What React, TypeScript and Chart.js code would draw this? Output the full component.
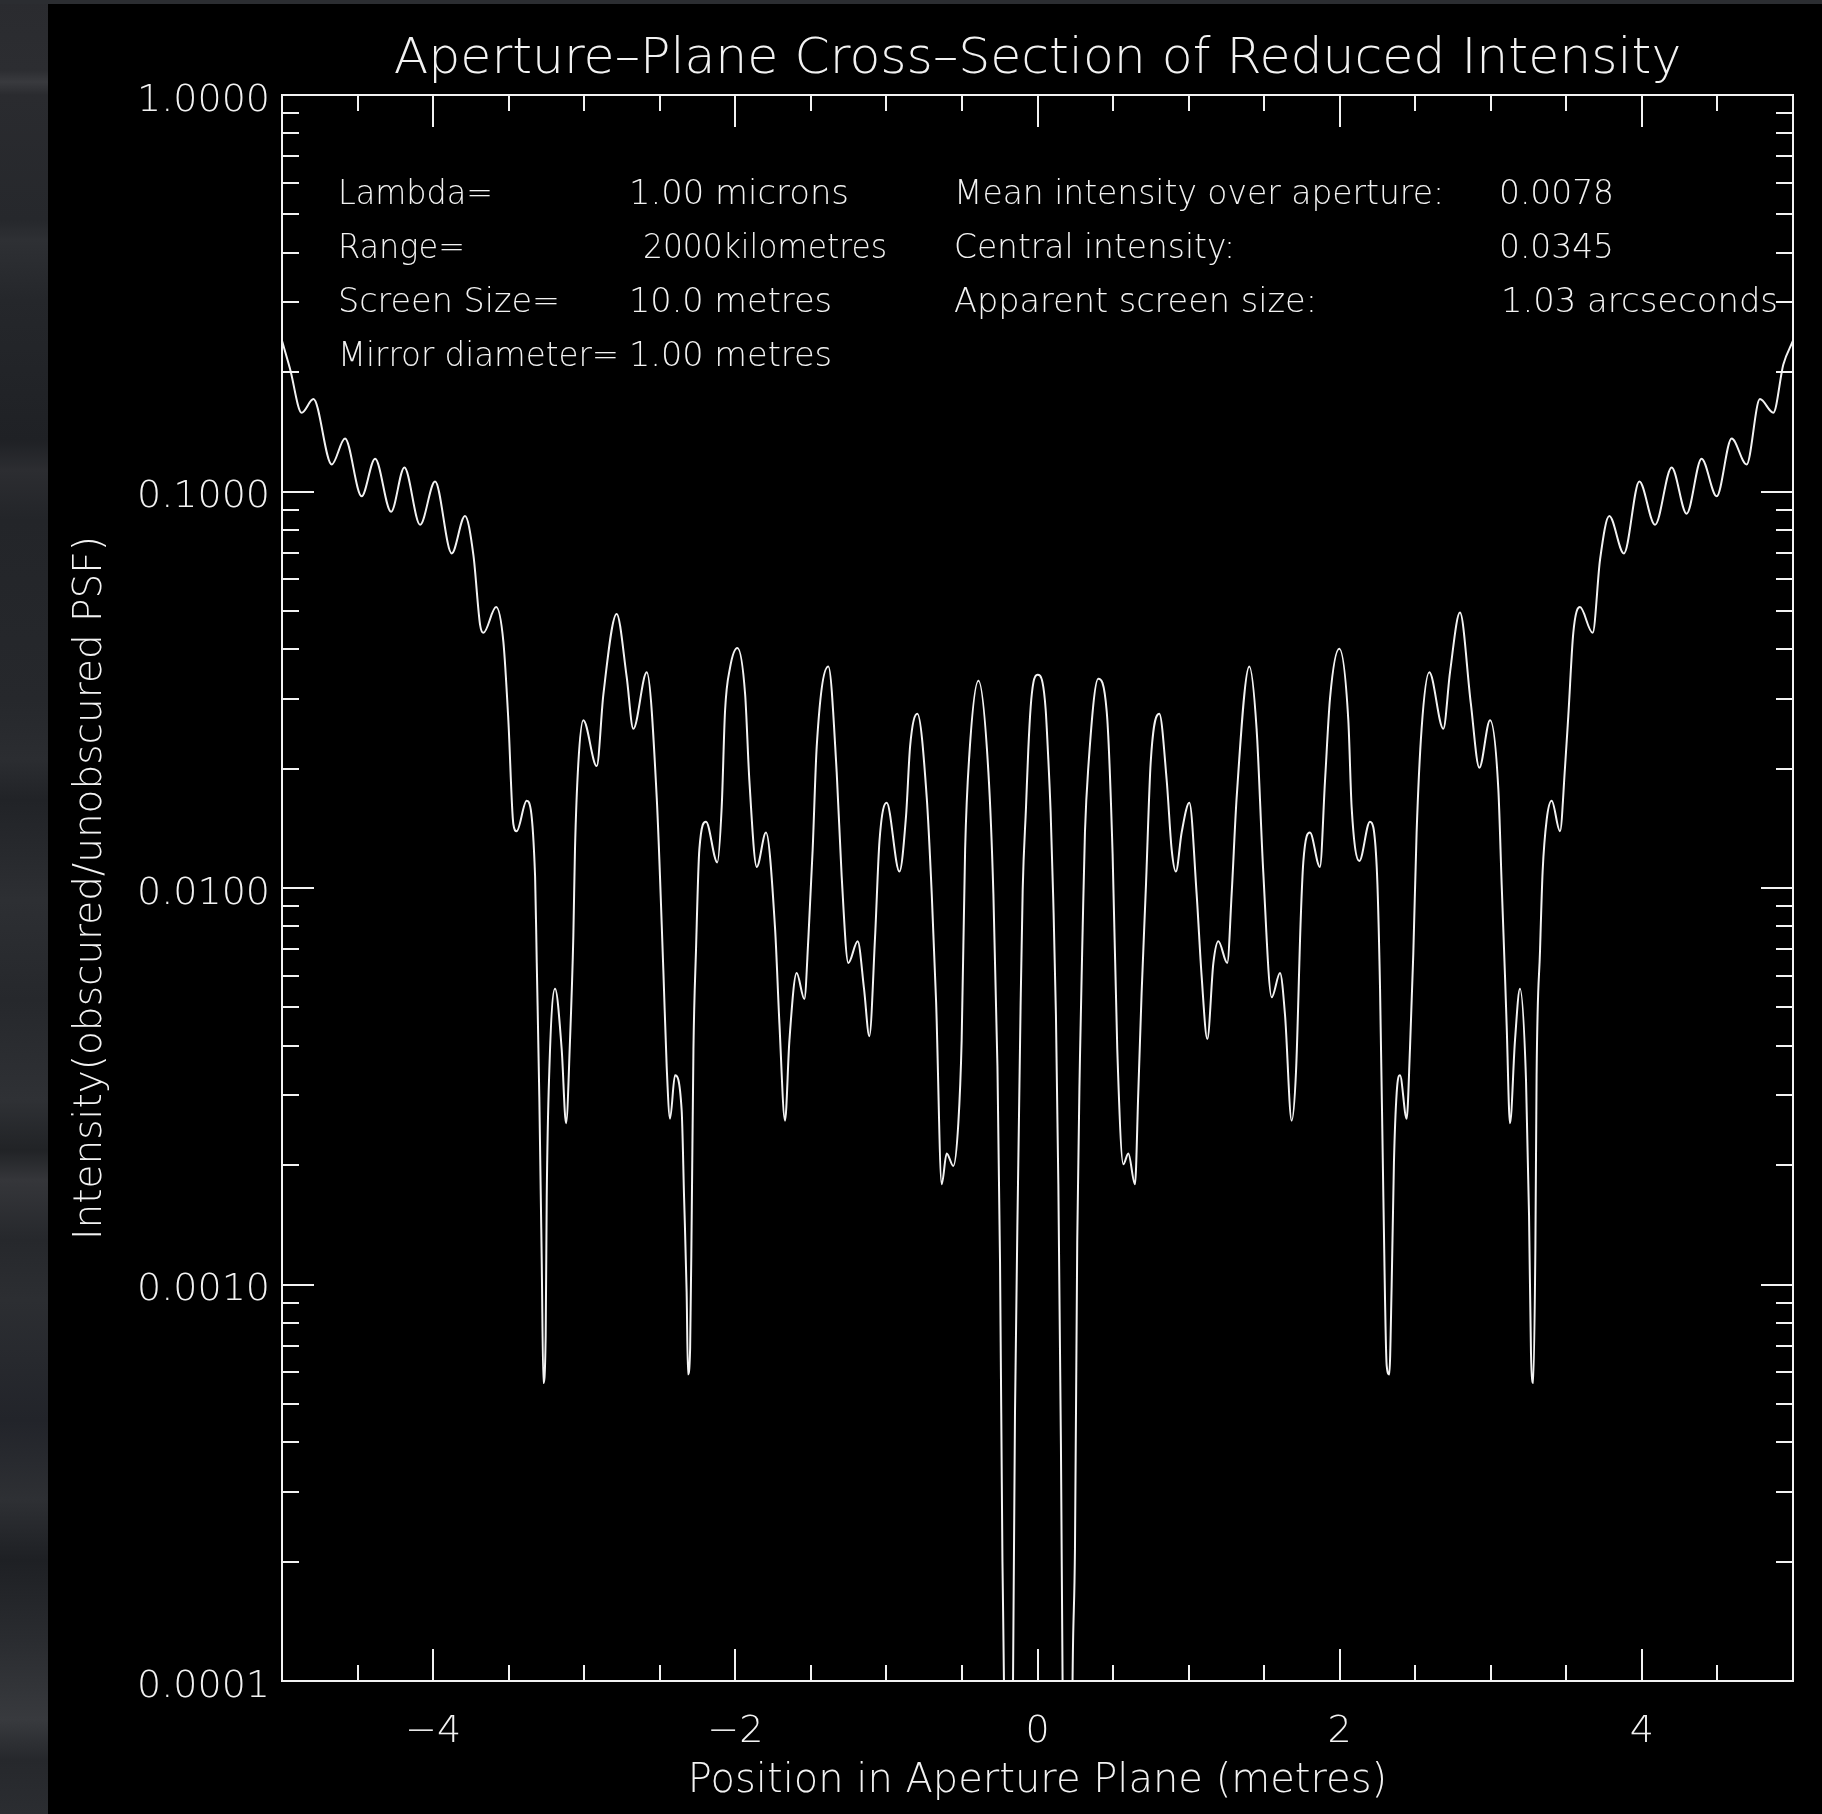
import React, { useEffect, useRef } from "react";
import { Chart, registerables } from "chart.js";

Chart.register(...registerables);

// ---------- data ----------
const POSITION_M = [
  -5.0, -4.947, -4.87, -4.792, -4.671, -4.583, -4.473, -4.384, -4.278, -4.19,
  -4.086, -3.987, -3.877, -3.789, -3.733, -3.689, -3.667, -3.583, -3.535, -3.502,
  -3.469, -3.447, -3.381, -3.325, -3.314, -3.297, -3.281, -3.27, -3.255, -3.248,
  -3.231, -3.193, -3.149, -3.12, -3.094, -3.072, -3.061, -3.039, -3.006, -2.917,
  -2.873, -2.785, -2.719, -2.675, -2.586, -2.52, -2.476, -2.454, -2.432, -2.399,
  -2.355, -2.339, -2.322, -2.313, -2.299, -2.288, -2.277, -2.26, -2.238, -2.194,
  -2.119, -2.09, -2.068, -2.035, -1.986, -1.935, -1.907, -1.858, -1.797, -1.737,
  -1.708, -1.671, -1.642, -1.594, -1.543, -1.516, -1.488, -1.461, -1.384, -1.329,
  -1.296, -1.252, -1.19, -1.148, -1.113, -1.075, -1.046, -0.998, -0.914, -0.87,
  -0.843, -0.795, -0.733, -0.7, -0.671, -0.634, -0.601, -0.557, -0.524, -0.502,
  -0.479, -0.451, -0.391, -0.325, -0.292, -0.265, -0.248, -0.232, -0.222, -0.192,
  -0.162, -0.149, -0.127, -0.112, -0.098, -0.076, -0.061, -0.045, -0.027, 0.0,
  0.033, 0.054, 0.069, 0.087, 0.104, 0.122, 0.138,
  0.155, 0.166, 0.198, 0.232, 0.248, 0.263, 0.281, 0.299, 0.314, 0.336,
  0.402, 0.458, 0.497, 0.528, 0.568, 0.601, 0.645, 0.667, 0.689, 0.718,
  0.749, 0.806, 0.855, 0.888, 0.916, 0.954, 1.005, 1.053, 1.086, 1.124,
  1.164, 1.197, 1.256, 1.285, 1.318, 1.402, 1.45, 1.494, 1.55, 1.605,
  1.638, 1.682, 1.711, 1.742, 1.759, 1.803, 1.869, 1.903, 1.936, 1.997,
  2.057, 2.079, 2.13, 2.2, 2.245, 2.267, 2.289, 2.311, 2.328, 2.344,
  2.359, 2.377, 2.399, 2.443, 2.465, 2.487, 2.509, 2.542, 2.593, 2.686,
  2.73, 2.796, 2.867, 2.924, 2.995, 3.05, 3.072, 3.094, 3.105, 3.127,
  3.16, 3.193, 3.233, 3.253, 3.266, 3.281, 3.295, 3.303, 3.326, 3.343,
  3.37, 3.403, 3.458, 3.491, 3.513, 3.546, 3.59, 3.674, 3.723, 3.784,
  3.881, 3.983, 4.087, 4.197, 4.296, 4.395, 4.495, 4.594, 4.693, 4.781,
  4.87, 4.936, 5.0,
];

const REDUCED_INTENSITY = [
  0.24, 0.204, 0.158, 0.171, 0.117, 0.136, 0.0973, 0.121, 0.0889, 0.115,
  0.0824, 0.106, 0.0698, 0.0867, 0.069, 0.0461, 0.044, 0.0511, 0.0418, 0.0265,
  0.0145, 0.0139, 0.0166, 0.0107, 0.00647, 0.00297, 0.00114, 0.000564, 0.000743, 0.00166,
  0.00345, 0.00557, 0.00392, 0.00255, 0.00412, 0.00753, 0.0125, 0.0206, 0.0265, 0.0203,
  0.0308, 0.0491, 0.0341, 0.0252, 0.035, 0.0169, 0.00617, 0.00354, 0.00262, 0.00337,
  0.00275, 0.00166, 0.000955, 0.000593, 0.000689, 0.00154, 0.00392, 0.00699, 0.0125, 0.0147,
  0.0116, 0.016, 0.0279, 0.0359, 0.0403, 0.0308, 0.0187, 0.0113, 0.0138, 0.00792,
  0.00455, 0.00259, 0.00412, 0.0061, 0.00525, 0.00753, 0.0125, 0.0228, 0.0362, 0.0196,
  0.0107, 0.00647, 0.00734, 0.00557, 0.00423, 0.00753, 0.0131, 0.0164, 0.011, 0.0152,
  0.0228, 0.0275, 0.0169, 0.00968, 0.00516, 0.00179, 0.00214, 0.00199, 0.00255, 0.00412,
  0.0125, 0.0217, 0.0333, 0.0196, 0.00968, 0.00354, 0.00114, 0.0002, 0.0001, 0.000001,
  0.0001, 0.000472, 0.00203, 0.005, 0.0099, 0.016, 0.0223, 0.0287, 0.033, 0.0345,
  0.033, 0.0282, 0.0221, 0.0155, 0.00944, 0.00479, 0.00179,
  0.000396, 0.0001, 0.000001, 0.0001, 0.000216, 0.00129, 0.00372, 0.00792, 0.0138, 0.0201,
  0.0337, 0.0279, 0.0122, 0.00392, 0.00201, 0.00214, 0.00179, 0.00305, 0.00543, 0.0102,
  0.0207, 0.0275, 0.0187, 0.0125, 0.011, 0.0138, 0.0164, 0.00968, 0.00601, 0.00416,
  0.00647, 0.00734, 0.00647, 0.00968, 0.0169, 0.0362, 0.0252, 0.011, 0.0053, 0.0061,
  0.00479, 0.00259, 0.00345, 0.00834, 0.0116, 0.0138, 0.0113, 0.0187, 0.0301, 0.0401,
  0.0265, 0.016, 0.0117, 0.0147, 0.0113, 0.00557, 0.00166, 0.000624, 0.000593, 0.001,
  0.00203, 0.00304, 0.00337, 0.00262, 0.00392, 0.00681, 0.0138, 0.0252, 0.035, 0.0252,
  0.035, 0.0495, 0.0294, 0.0201, 0.0265, 0.0177, 0.0102, 0.006, 0.0045, 0.00255,
  0.00412, 0.00557, 0.00328, 0.0015, 0.000671, 0.000564, 0.00123, 0.00337, 0.00699, 0.011,
  0.0149, 0.0166, 0.0139, 0.0201, 0.0272, 0.044, 0.0511, 0.044, 0.0673, 0.0867,
  0.0698, 0.106, 0.0824, 0.115, 0.0879, 0.121, 0.0973, 0.136, 0.117, 0.171,
  0.158, 0.209, 0.24,
];

const X_MAJOR_TICKS = [-4, -2, 0, 2, 4];
const X_MINOR_TICKS = [-4.5, -3.5, -3, -2.5, -1.5, -1, -0.5, 0.5, 1, 1.5, 2.5, 3, 3.5, 4.5];
const Y_MAJOR_TICKS = [1, 0.1, 0.01, 0.001, 0.0001];
const Y_MINOR_TICKS = [
  0.0002, 0.0003, 0.0004, 0.0005, 0.0006, 0.0007, 0.0008, 0.0009,
  0.002, 0.003, 0.004, 0.005, 0.006, 0.007, 0.008, 0.009,
  0.02, 0.03, 0.04, 0.05, 0.06, 0.07, 0.08, 0.09,
  0.2, 0.3, 0.4, 0.5, 0.6, 0.7, 0.8, 0.9,
];

const TITLE = "Aperture–Plane Cross–Section of Reduced Intensity";
const X_TITLE = "Position in Aperture Plane (metres)";
const Y_TITLE = "Intensity(obscured/unobscured PSF)";

const PARAM_LABELS = ["Lambda=", "Range=", "Screen Size=", "Mirror diameter="];
const PARAM_VALUES = ["1.00 microns", "2000kilometres", "10.0 metres", "1.00 metres"];
const RESULT_LABELS = ["Mean intensity over aperture:", "Central intensity:", "Apparent screen size:"];
const RESULT_VALUES = ["0.0078", "0.0345", "1.03 arcseconds"];

// ---------- styling ----------
const FG = "#f2f2f2";
const FONT = "'DejaVu Sans', 'Liberation Sans', sans-serif";
const W = 1822;
const H = 1814;

// text layout of the annotation block: [x, width] per item
const ROW_BASELINES = [204, 258, 312, 366];
const PARAM_LABEL_BOX = [[338, 155], [338, 127], [338, 222], [338, 281]];
const PARAM_VALUE_BOX = [[629, 220], [643, 244], [629, 203], [629, 203]];
const RESULT_LABEL_BOX = [[954, 490], [954, 281], [954, 363]];
const RESULT_VALUE_BOX = [[1499, 115], [1499, 115], [1501, 277]];

function fitText(ctx: CanvasRenderingContext2D, text: string, x: number, y: number, width: number) {
  const w = ctx.measureText(text).width;
  ctx.save();
  ctx.translate(x, y);
  ctx.scale(width / w, 1);
  ctx.fillText(text, 0, 0);
  ctx.restore();
}

const idlFramePlugin = {
  id: "idlFrame",
  afterDraw(chart: any) {
    const { ctx, chartArea, scales } = chart;
    const { left, right, top, bottom } = chartArea;
    const xs = scales.x;
    const ys = scales.y;
    ctx.save();
    ctx.strokeStyle = FG;
    ctx.lineWidth = 2;
    ctx.beginPath();
    ctx.rect(Math.round(left), Math.round(top), Math.round(right - left), Math.round(bottom - top));
    const xTick = (v: number, len: number) => {
      const px = Math.round(xs.getPixelForValue(v));
      ctx.moveTo(px, bottom);
      ctx.lineTo(px, bottom - len);
      ctx.moveTo(px, top);
      ctx.lineTo(px, top + len);
    };
    const yTick = (v: number, len: number) => {
      const py = Math.round(ys.getPixelForValue(v));
      ctx.moveTo(left, py);
      ctx.lineTo(left + len, py);
      ctx.moveTo(right, py);
      ctx.lineTo(right - len, py);
    };
    X_MAJOR_TICKS.forEach((v) => xTick(v, 32));
    X_MINOR_TICKS.forEach((v) => xTick(v, 16));
    Y_MAJOR_TICKS.forEach((v) => yTick(v, 32));
    Y_MINOR_TICKS.forEach((v) => yTick(v, 17));
    ctx.stroke();

    ctx.fillStyle = FG;
    ctx.font = `200 33px ${FONT}`;
    ctx.textBaseline = "alphabetic";
    ctx.textAlign = "left";
    PARAM_LABELS.forEach((t, i) => fitText(ctx, t, PARAM_LABEL_BOX[i][0], ROW_BASELINES[i], PARAM_LABEL_BOX[i][1]));
    PARAM_VALUES.forEach((t, i) => fitText(ctx, t, PARAM_VALUE_BOX[i][0], ROW_BASELINES[i], PARAM_VALUE_BOX[i][1]));
    RESULT_LABELS.forEach((t, i) => fitText(ctx, t, RESULT_LABEL_BOX[i][0], ROW_BASELINES[i], RESULT_LABEL_BOX[i][1]));
    RESULT_VALUES.forEach((t, i) => fitText(ctx, t, RESULT_VALUE_BOX[i][0], ROW_BASELINES[i], RESULT_VALUE_BOX[i][1]));
    ctx.restore();
  },
};

const STRIP_BG =
  "linear-gradient(to bottom, #2a2b2f 0px, #2c2d31 70px, #393a3e 82px, #2a2b2f 95px, #26282c 220px, #2e3034 240px, #25272b 300px, #1f2125 440px, #2c2d31 470px, #232529 520px, #26282c 700px, #2b2d31 760px, #212327 800px, #2d2f33 900px, #26282c 1000px, #2f3135 1100px, #212326 1150px, #35363a 1180px, #26282c 1240px, #2c2e32 1300px, #22242a 1420px, #2e3034 1500px, #1e2024 1560px, #2a2c30 1640px, #383a3e 1720px, #26282c 1760px, #2b2d31 1814px)";

export default function App() {
  const ref = useRef<HTMLCanvasElement>(null);

  useEffect(() => {
    const canvas = ref.current;
    if (!canvas) return;
    Chart.defaults.font.family = FONT;
    const points = POSITION_M.map((x, i) => ({ x, y: REDUCED_INTENSITY[i] }));
    const chart = new Chart(canvas, {
      type: "line",
      data: {
        datasets: [
          {
            label: "Reduced intensity",
            data: points,
            borderColor: FG,
            borderWidth: 2,
            pointRadius: 0,
            fill: false,
            cubicInterpolationMode: "monotone",
          },
        ],
      },
      options: {
        animation: false,
        responsive: false,
        maintainAspectRatio: false,
        devicePixelRatio: 1,
        layout: { padding: { left: 0, right: 29, top: 0, bottom: 0 } },
        plugins: {
          legend: { display: false },
          tooltip: { enabled: false },
          title: {
            display: true,
            text: TITLE,
            color: FG,
            fullSize: false,
            align: "center",
            font: { family: FONT, size: 50.5, weight: "200", lineHeight: 1.2 },
            padding: { top: 29.2, bottom: 5.2 },
          },
        },
        scales: {
          x: {
            type: "linear",
            min: -5,
            max: 5,
            afterBuildTicks: (s: any) => {
              s.ticks = X_MAJOR_TICKS.map((v) => ({ value: v }));
            },
            afterFit: (s: any) => {
              s.height = 133;
            },
            grid: { display: false, drawTicks: false },
            border: { display: false },
            ticks: {
              color: FG,
              font: { family: FONT, size: 38, weight: "200", lineHeight: 1.2 },
              padding: 28.3,
              maxRotation: 0,
              autoSkip: false,
              callback: (v: any) => (Number(v) < 0 ? "\u2212" + Math.abs(Number(v)) : String(v)),
            },
            title: {
              display: true,
              text: X_TITLE,
              color: FG,
              font: { family: FONT, size: 40, weight: "200", lineHeight: 1.2 },
              padding: { top: 0, bottom: 8 },
            },
          },
          y: {
            type: "logarithmic",
            min: 0.0001,
            max: 1,
            afterBuildTicks: (s: any) => {
              s.ticks = Y_MAJOR_TICKS.map((v) => ({ value: v }));
            },
            afterFit: (s: any) => {
              s.width = 282;
            },
            grid: { display: false, drawTicks: false },
            border: { display: false },
            ticks: {
              color: FG,
              font: { family: FONT, size: 38, weight: "200", lineHeight: 1.2 },
              padding: 12,
              labelOffset: 6,
              autoSkip: false,
              callback: (v: any) => Number(v).toFixed(4),
            },
            title: {
              display: true,
              text: Y_TITLE,
              color: FG,
              font: { family: FONT, size: 39, weight: "200", lineHeight: 1.2 },
              padding: { top: 67.2, bottom: 0 },
            },
          },
        },
      },
      plugins: [idlFramePlugin],
    } as any);
    return () => chart.destroy();
  }, []);

  return (
    <div
      style={{
        position: "absolute",
        left: 0,
        top: 0,
        width: W,
        height: H,
        background: "#000",
        overflow: "hidden",
      }}
    >
      <div style={{ position: "absolute", left: 0, top: 0, width: 48, height: H, background: STRIP_BG }} />
      <div style={{ position: "absolute", left: 0, top: 0, width: W, height: 4, background: "#2b2d31" }} />
      <canvas
        ref={ref}
        width={W}
        height={H}
        style={{ position: "absolute", left: 0, top: 0, width: W, height: H, display: "block" }}
      />
    </div>
  );
}
